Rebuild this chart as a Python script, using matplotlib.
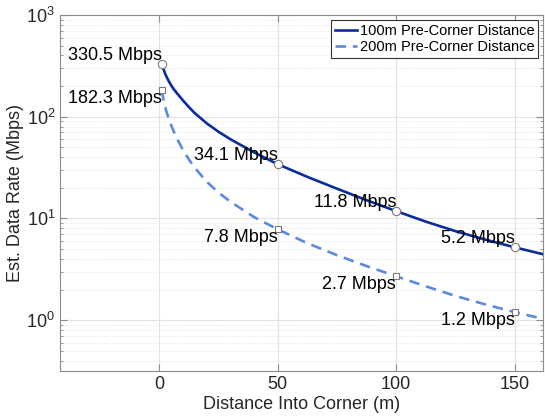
import matplotlib
matplotlib.use("Agg")
import matplotlib.pyplot as plt
from matplotlib.ticker import LogLocator, NullFormatter, NullLocator

plt.rcParams['font.family'] = ['Liberation Sans', 'DejaVu Sans']
plt.rcParams['mathtext.fontset'] = 'custom'
plt.rcParams['mathtext.rm'] = 'Liberation Sans'

# curve samples
x100 = [1, 1.5, 2, 2.5, 3, 4, 5, 6, 7.5, 10, 12.5, 15, 20, 25, 30, 40, 50, 62.5, 75, 87.5, 100, 112.5, 125, 137.5, 150, 162]
y100 = [330.5, 302, 282, 262, 247, 222, 203, 187, 169, 144, 124, 108, 86, 71, 60, 44.6, 34.1, 25.6, 19.6, 15.1, 11.8, 9.3, 7.5, 6.2, 5.2, 4.45]
x200 = [1, 1.5, 2, 2.5, 3, 4, 5, 6, 7.5, 10, 12.5, 15, 20, 25, 30, 40, 50, 62.5, 75, 87.5, 100, 112.5, 125, 137.5, 150, 162]
y200 = [182.3, 157, 137, 123, 111.5, 94.5, 82, 72, 60.5, 46.8, 37.8, 31.3, 22.9, 17.9, 14.6, 10.3, 7.8, 5.7, 4.35, 3.4, 2.7, 2.15, 1.73, 1.43, 1.2, 1.03]

# marked points
mark_x = [1, 50, 100, 150]
mark100 = [330.5, 34.1, 11.8, 5.2]
mark200 = [182.3, 7.8, 2.7, 1.2]
labels100 = ["330.5 Mbps", "34.1 Mbps", "11.8 Mbps", "5.2 Mbps"]
labels200 = ["182.3 Mbps", "7.8 Mbps", "2.7 Mbps", "1.2 Mbps"]

series_names = ["100m Pre-Corner Distance", "200m Pre-Corner Distance"]
xticks = [0, 50, 100, 150]

fig = plt.figure(figsize=(5.45, 4.16), dpi=100)
ax = fig.add_axes([60/545, 45/416, 483/545, 356/416])

c1 = '#0a2c9c'
c2 = '#5c8ae2'
ax.plot(x100, y100, color=c1, lw=1.9, label=series_names[0], zorder=3)
ax.plot(x200, y200, color=c2, lw=1.9, ls=(0, (4, 2.6)), label=series_names[1], zorder=3)
ax.plot(mark_x, mark100, ls='none', marker='o', ms=6, mfc='white', mec='#7a7a7a', mew=0.8, zorder=4)
ax.plot(mark_x, mark200, ls='none', marker='s', ms=5, mfc='white', mec='#7a7a7a', mew=0.8, zorder=4)

for x, y, t in zip(mark_x, mark100, labels100):
    ax.text(x, y, t, ha='right', va='bottom', fontsize=13, color='black', zorder=5)
for x, y, t in zip(mark_x, mark200, labels200):
    ax.text(x, y, t, ha='right', va='top', fontsize=13, color='black', zorder=5)

ax.set_yscale('log')
ax.set_xlim(-42, 162)
ax.set_ylim(10**-0.5, 1000)
ax.set_xticks(xticks)
ax.xaxis.set_minor_locator(NullLocator())
ax.yaxis.set_major_locator(LogLocator(base=10, numticks=10))
ax.yaxis.set_minor_locator(LogLocator(base=10, subs=range(2, 10), numticks=10))
ax.yaxis.set_minor_formatter(NullFormatter())

ax.grid(True, which='major', color='#e3e3e3', lw=0.8, ls='-')
ax.grid(True, which='minor', axis='y', color='#e6e6e6', lw=0.7, ls=':')
ax.set_axisbelow(True)

for s in ax.spines.values():
    s.set_color('#8a8a8a')
    s.set_linewidth(0.8)
ax.tick_params(which='both', direction='in', top=True, right=True, color='#8a8a8a', labelcolor='#262626', labelsize=13)
ax.tick_params(which='major', length=5)
ax.tick_params(which='minor', length=2.5)

ax.set_xlabel("Distance Into Corner (m)", fontsize=13, color='#262626', labelpad=2)
ax.set_ylabel("Est. Data Rate (Mbps)", fontsize=13, color='#262626', labelpad=2)

leg = ax.legend(loc='upper right', fontsize=10.5, frameon=True, fancybox=False, framealpha=1,
                edgecolor='#333333', handlelength=1.5, handletextpad=0.2, borderpad=0.25,
                labelspacing=0.15, borderaxespad=0.35)
leg.get_frame().set_linewidth(0.8)

fig.savefig("out.png", dpi=100)
